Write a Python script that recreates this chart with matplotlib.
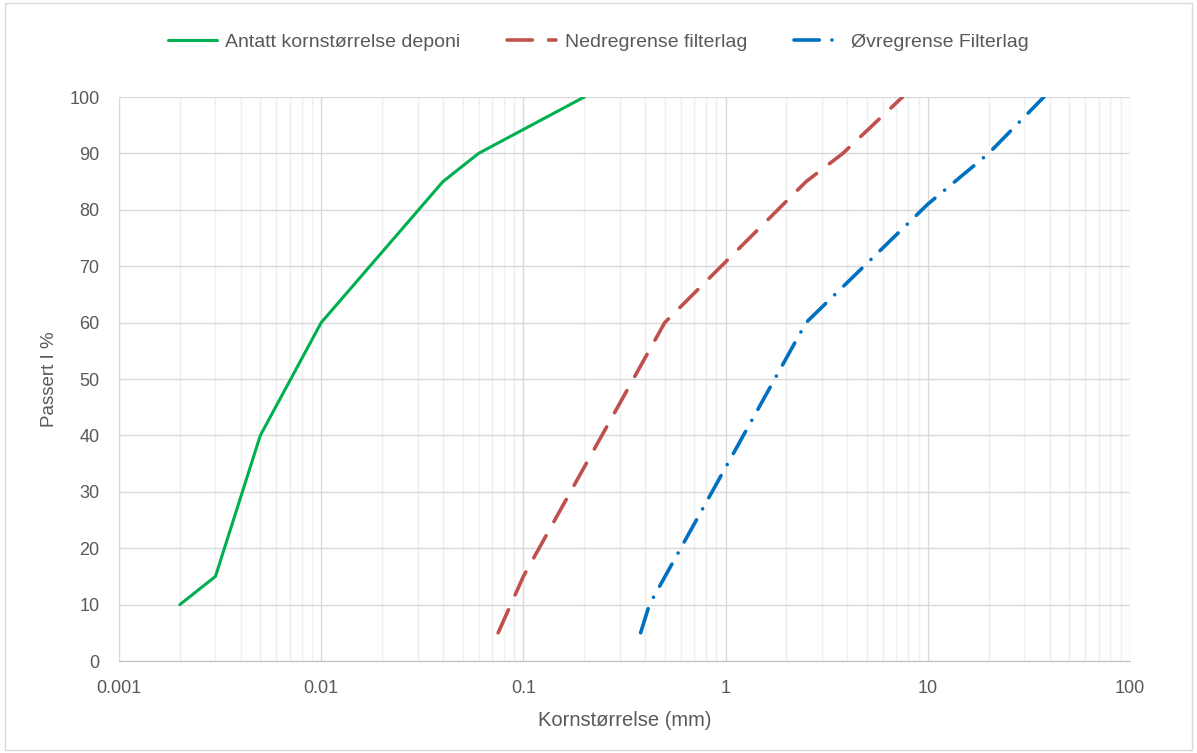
import matplotlib.pyplot as plt
from matplotlib.patches import Rectangle
from matplotlib.ticker import LogLocator, FixedLocator, NullFormatter

# grain size curves
deponi_mm = [0.002, 0.003, 0.005, 0.01, 0.04, 0.06, 0.2]
deponi_pct = [10, 15, 40, 60, 85, 90, 100]

nedre_mm = [0.075, 0.1, 0.5, 2.5, 3.8, 7.5]
nedre_pct = [5, 15, 60, 85, 90, 100]

ovre_mm = [0.38, 0.42, 2.5, 10, 20, 37.5]
ovre_pct = [5, 10, 60, 81, 90, 100]

x_ticks = [0.001, 0.01, 0.1, 1, 10, 100]
x_tick_labels = ["0.001", "0.01", "0.1", "1", "10", "100"]
y_ticks = list(range(0, 101, 10))

text_col = "#595959"
plt.rcParams['font.family'] = ['Liberation Sans', 'DejaVu Sans']

fig = plt.figure(figsize=(11.97, 7.53), dpi=100)
ax = fig.add_axes([119 / 1197, 1 - 661 / 753, (1130 - 119) / 1197, (661 - 97) / 753])

ax.plot(deponi_mm, deponi_pct, color="#00B050", lw=2.2,
        label="Antatt kornstørrelse deponi", solid_capstyle="round")
ax.plot(nedre_mm, nedre_pct, color="#C0504D", lw=2.6, dash_capstyle="round",
        linestyle=(0, (7, 4.5)), label="Nedregrense filterlag")
ax.plot(ovre_mm, ovre_pct, color="#0070C0", lw=2.6, dash_capstyle="round",
        linestyle=(0, (7, 3.5, 0.01, 3.5)), label="Øvregrense Filterlag")

ax.set_xscale("log")
ax.set_xlim(0.001, 100)
ax.set_ylim(0, 100)
ax.xaxis.set_major_locator(FixedLocator(x_ticks))
ax.set_xticklabels(x_tick_labels)
ax.xaxis.set_minor_locator(LogLocator(base=10, subs=range(2, 10)))
ax.xaxis.set_minor_formatter(NullFormatter())
ax.set_yticks(y_ticks)

ax.grid(True, which="major", color="#d9d9d9", lw=1.0)
ax.grid(True, which="minor", axis="x", color="#efefef", lw=1.0)
ax.set_axisbelow(True)

for side in ["top", "right"]:
    ax.spines[side].set_visible(False)
ax.spines["left"].set_color("#d9d9d9")
ax.spines["bottom"].set_color("#bfbfbf")
ax.tick_params(which="both", length=0, labelsize=13, colors=text_col)
ax.tick_params(axis="y", pad=14)
ax.tick_params(axis="x", pad=14)

ax.set_xlabel("Kornstørrelse (mm)", fontsize=14.5, color=text_col, labelpad=10)
ax.set_ylabel("Passert I %", fontsize=13.5, color=text_col, labelpad=8)

fig.legend(loc="center", bbox_to_anchor=(0.5, 1 - 42 / 753), ncol=3, frameon=False,
           fontsize=14, handlelength=2.5, handletextpad=0.45, columnspacing=2.4,
           labelcolor=text_col)

fig.patches.append(Rectangle((0.004, 0.004), 0.992, 0.992, transform=fig.transFigure,
                             fill=False, edgecolor="#d9d9d9", lw=1.0))

fig.savefig("out.png", dpi=100)
